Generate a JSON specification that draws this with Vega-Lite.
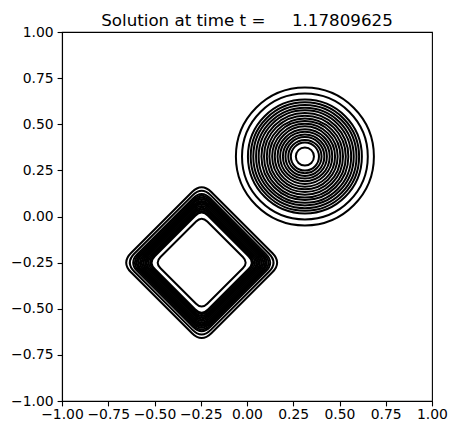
{
  "$schema": "https://vega.github.io/schema/vega-lite/v6.json",
  "autosize": "none",
  "width": 370,
  "height": 369,
  "padding": {"left": 62, "top": 32, "right": 25, "bottom": 34},
  "background": "white",
  "title": {
    "text": "Solution at time t =\u00a0\u00a0\u00a0\u00a0\u00a01.17809625",
    "frame": "group",
    "anchor": "middle",
    "baseline": "alphabetic",
    "offset": 7,
    "dy": 25,
    "font": "DejaVu Sans",
    "fontSize": 16.7,
    "fontWeight": "normal",
    "color": "#000000"
  },
  "config": {
    "view": {"stroke": "#000000", "strokeWidth": 1.1},
    "axis": {
      "grid": false,
      "domainColor": "#000000",
      "domainWidth": 1.1,
      "tickColor": "#000000",
      "tickWidth": 1.1,
      "tickSize": 4.9,
      "labelFont": "DejaVu Sans",
      "labelFontSize": 13.9,
      "labelColor": "#000000",
      "labelOverlap": false,
      "labelBound": false,
      "labelFlush": false,
      "title": null,
      "format": ".2f"
    }
  },
  "datasets": {
    "cone": [
      {"cx": 0.313, "cy": 0.325, "r": 0.049},
      {"cx": 0.313, "cy": 0.325, "r": 0.076},
      {"cx": 0.313, "cy": 0.325, "r": 0.090},
      {"cx": 0.313, "cy": 0.325, "r": 0.105},
      {"cx": 0.313, "cy": 0.325, "r": 0.119},
      {"cx": 0.313, "cy": 0.325, "r": 0.134},
      {"cx": 0.313, "cy": 0.325, "r": 0.148},
      {"cx": 0.313, "cy": 0.325, "r": 0.163},
      {"cx": 0.313, "cy": 0.325, "r": 0.177},
      {"cx": 0.313, "cy": 0.325, "r": 0.192},
      {"cx": 0.313, "cy": 0.325, "r": 0.206},
      {"cx": 0.313, "cy": 0.325, "r": 0.221},
      {"cx": 0.313, "cy": 0.325, "r": 0.235},
      {"cx": 0.313, "cy": 0.325, "r": 0.250},
      {"cx": 0.313, "cy": 0.325, "r": 0.264},
      {"cx": 0.313, "cy": 0.325, "r": 0.279},
      {"cx": 0.313, "cy": 0.325, "r": 0.293},
      {"cx": 0.313, "cy": 0.325, "r": 0.308},
      {"cx": 0.313, "cy": 0.325, "r": 0.340},
      {"cx": 0.313, "cy": 0.325, "r": 0.373}
    ],
    "square": [
      {"cx": -0.245, "cy": -0.25, "r": 0.434},
      {"cx": -0.245, "cy": -0.25, "r": 0.413},
      {"cx": -0.245, "cy": -0.25, "r": 0.394},
      {"cx": -0.245, "cy": -0.25, "r": 0.384},
      {"cx": -0.245, "cy": -0.25, "r": 0.374},
      {"cx": -0.245, "cy": -0.25, "r": 0.365},
      {"cx": -0.245, "cy": -0.25, "r": 0.355},
      {"cx": -0.245, "cy": -0.25, "r": 0.345},
      {"cx": -0.245, "cy": -0.25, "r": 0.335},
      {"cx": -0.245, "cy": -0.25, "r": 0.325},
      {"cx": -0.245, "cy": -0.25, "r": 0.316},
      {"cx": -0.245, "cy": -0.25, "r": 0.306},
      {"cx": -0.245, "cy": -0.25, "r": 0.296},
      {"cx": -0.245, "cy": -0.25, "r": 0.288},
      {"cx": -0.245, "cy": -0.25, "r": 0.253}
    ]
  },
  "encoding": {
    "x": {
      "field": "cx", "type": "quantitative",
      "scale": {"domain": [-1, 1], "nice": false, "zero": false},
      "axis": {"values": [-1, -0.75, -0.5, -0.25, 0, 0.25, 0.5, 0.75, 1], "labelPadding": 2}
    },
    "y": {
      "field": "cy", "type": "quantitative",
      "scale": {"domain": [-1, 1], "nice": false, "zero": false},
      "axis": {"values": [-1, -0.75, -0.5, -0.25, 0, 0.25, 0.5, 0.75, 1], "labelPadding": 4}
    },
    "size": {
      "field": "r", "type": "quantitative",
      "scale": {"type": "pow", "exponent": 2, "domain": [0, 1], "range": [0, 136900]},
      "legend": null
    }
  },
  "layer": [
    {
      "data": {"name": "cone"},
      "mark": {"type": "point", "shape": "circle", "filled": false, "stroke": "#000000", "strokeWidth": 2, "opacity": 1}
    },
    {
      "data": {"name": "square"},
      "mark": {"type": "point", "shape": "M -0.12,-0.88 Q 0,-1 0.12,-0.88 L 0.88,-0.12 Q 1,0 0.88,0.12 L 0.12,0.88 Q 0,1 -0.12,0.88 L -0.88,0.12 Q -1,0 -0.88,-0.12 Z", "filled": false, "stroke": "#000000", "strokeWidth": 2, "opacity": 1}
    }
  ]
}
